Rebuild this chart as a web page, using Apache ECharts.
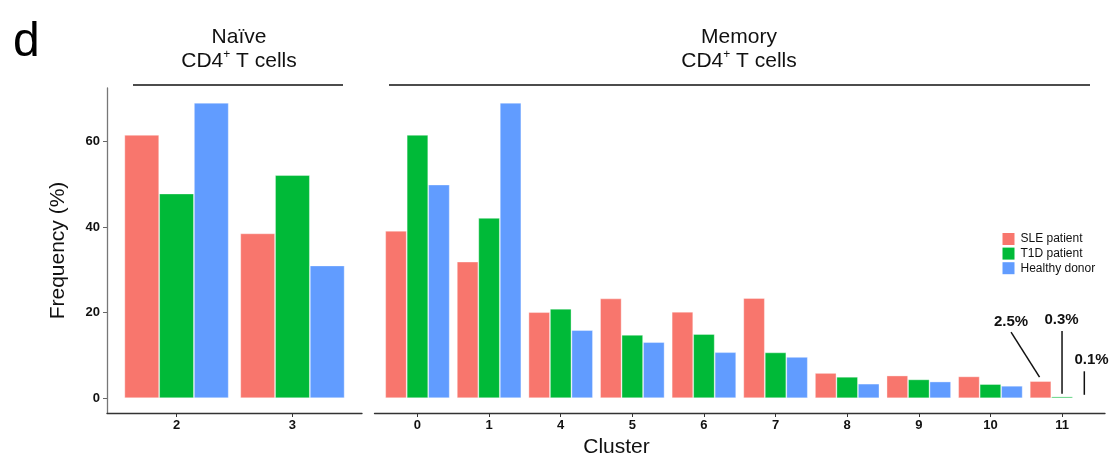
<!DOCTYPE html>
<html><head><meta charset="utf-8">
<script src="https://cdn.jsdelivr.net/npm/echarts@6/dist/echarts.min.js"></script>
<style>html,body{margin:0;padding:0;background:#fff}#c{width:1117px;height:461px}</style>
</head><body><div id="c"></div>
<script>
// ---- data ----
const naiveClusters = ['2', '3'];
const memoryClusters = ['0', '1', '4', '5', '6', '7', '8', '9', '10', '11'];
const seriesNames = ['SLE patient', 'T1D patient', 'Healthy donor'];
const naiveSLE = [61.5, 38.5];
const naiveT1D = [47.8, 52.1];
const naiveHD = [69.0, 31.0];
const memorySLE = [39.1, 31.9, 20.1, 23.3, 20.2, 23.4, 5.9, 5.3, 5.1, 4.0];
const memoryT1D = [61.5, 42.1, 20.9, 14.8, 15.0, 10.7, 5.0, 4.4, 3.3, 0.4];
const memoryHD = [49.9, 69.0, 15.9, 13.1, 10.75, 9.65, 3.4, 3.9, 2.9, 0.1];
const yTicks = [0, 20, 40, 60];
const annotationLabels = ['2.5%', '0.3%', '0.1%'];
const panelTitles = ['Naïve', 'Memory'];

// ---- styles ----
const FONT = '"Liberation Sans", Arial, Helvetica, sans-serif';
const colors = ['#F8766D', '#00BA38', '#619CFF'];
const naiveData = [naiveSLE, naiveT1D, naiveHD];
const memoryData = [memorySLE, memoryT1D, memoryHD];
const yMax = Math.max(...naiveSLE, ...naiveT1D, ...naiveHD, ...memorySLE, ...memoryT1D, ...memoryHD);
const yPad = yMax * 0.05;

const chart = echarts.init(document.getElementById('c'), null, { renderer: 'canvas' });

function xAxisFor(gridIndex, cats) {
  const idx = cats.map((_, i) => i);
  return {
    gridIndex, type: 'value', min: -0.6, max: cats.length - 1 + 0.6,
    splitLine: { show: false },
    axisLine: { show: true, onZero: false, lineStyle: { color: '#333', width: 1.3 } },
    axisTick: { show: true, length: 4, customValues: idx, lineStyle: { color: '#333', width: 1 } },
    axisLabel: {
      customValues: idx, margin: 6,
      formatter: v => cats[Math.round(v)],
      color: '#111', fontWeight: 'bold', fontSize: 13, fontFamily: FONT
    }
  };
}
function yAxisFor(gridIndex, visible) {
  return {
    gridIndex, type: 'value', min: -yPad, max: yMax + yPad, show: visible,
    splitLine: { show: false },
    axisLine: { show: true, onZero: false, lineStyle: { color: '#777', width: 1.3 } },
    axisTick: { show: true, length: 4, customValues: yTicks, lineStyle: { color: '#666', width: 1 } },
    axisLabel: { customValues: yTicks, margin: 7, color: '#111', fontWeight: 'bold', fontSize: 13, fontFamily: FONT },
    name: visible ? 'Frequency (%)' : '', nameLocation: 'middle', nameGap: 38, nameRotate: 90,
    nameTextStyle: { fontSize: 21, color: '#111', fontFamily: FONT }
  };
}
function barSeries(gridIndex, sets) {
  return sets.map((vals, s) => ({
    type: 'bar', name: seriesNames[s], xAxisIndex: gridIndex, yAxisIndex: gridIndex,
    data: vals.map((v, i) => [i, v]),
    barGap: '0%', barCategoryGap: '10%',
    itemStyle: { color: colors[s], borderColor: 'rgba(255,255,255,0.45)', borderWidth: 0.8 },
    emphasis: { disabled: true }, animation: false
  }));
}

function headerText(x, title) {
  return {
    type: 'text', x, y: 25, silent: true,
    style: {
      text: '{n|' + title + '}\n{n|CD4}{s|+}{n| T cells}', align: 'center', verticalAlign: 'top',
      fill: '#111', font: '21px ' + FONT,
      rich: {
        n: { fontSize: 21, lineHeight: 24, fontFamily: FONT, fill: '#111' },
        s: { fontSize: 12, lineHeight: 12, fontFamily: FONT, verticalAlign: 'top', fill: '#111' }
      }
    }
  };
}

const option = {
  backgroundColor: '#fff',
  animation: false,
  textStyle: { fontFamily: FONT },
  grid: [
    { left: 107, top: 88, width: 255, height: 325, containLabel: false },
    { left: 374.5, top: 88, width: 730.5, height: 325, containLabel: false }
  ],
  xAxis: [xAxisFor(0, naiveClusters), xAxisFor(1, memoryClusters)],
  yAxis: [yAxisFor(0, true), yAxisFor(1, false)],
  legend: {
    data: seriesNames, orient: 'vertical', left: 1002.5, top: 233, padding: 0,
    itemWidth: 12, itemHeight: 12, itemGap: 2.6, icon: 'rect', selectedMode: false,
    itemStyle: { borderWidth: 0 },
    textStyle: { fontSize: 12, color: '#111', fontFamily: FONT, padding: [0, 0, 0, 1] }
  },
  series: [...barSeries(0, naiveData), ...barSeries(1, memoryData)],
  graphic: [
    { type: 'text', x: 13, y: 19, silent: true, style: { text: 'd', font: '48px ' + FONT, fill: '#000' } },
    headerText(239, panelTitles[0]),
    headerText(739, panelTitles[1]),
    { type: 'line', silent: true, shape: { x1: 133, y1: 85, x2: 343, y2: 85 }, style: { stroke: '#111', lineWidth: 1.6 } },
    { type: 'line', silent: true, shape: { x1: 389, y1: 85, x2: 1090, y2: 85 }, style: { stroke: '#111', lineWidth: 1.6 } },
    { type: 'text', x: 616.5, y: 437, silent: true, style: { text: 'Cluster', align: 'center', verticalAlign: 'top', font: '21px ' + FONT, fill: '#111' } }
  ]
};
chart.setOption(option);

// ---- annotations for the last memory cluster, anchored to bar tops through the grid scale ----
const last = memoryClusters.length - 1;
const barUnit = 0.9 / 3;
const anno = [
  { s: 0, l0: [-29.5, -49], l1: [-1, -4], t: [-29.5, -52] },
  { s: 1, l0: [0, -65.5], l1: [0, -2.7], t: [-0.5, -69] },
  { s: 2, l0: [0.8, -26.5], l1: [0.8, -3], t: [8, -30.5] }
];
const extra = [];
anno.forEach((a, k) => {
  const p = chart.convertToPixel({ gridIndex: 1 }, [last + (a.s - 1) * barUnit, memoryData[a.s][last]]);
  extra.push({ type: 'line', silent: true,
    shape: { x1: p[0] + a.l0[0], y1: p[1] + a.l0[1], x2: p[0] + a.l1[0], y2: p[1] + a.l1[1] },
    style: { stroke: '#111', lineWidth: 1.5 } });
  extra.push({ type: 'text', silent: true, x: p[0] + a.t[0], y: p[1] + a.t[1],
    style: { text: annotationLabels[k], align: 'center', verticalAlign: 'bottom', font: 'bold 15px ' + FONT, fill: '#111' } });
});
chart.setOption({ graphic: option.graphic.concat(extra) });
</script>
</body></html>
